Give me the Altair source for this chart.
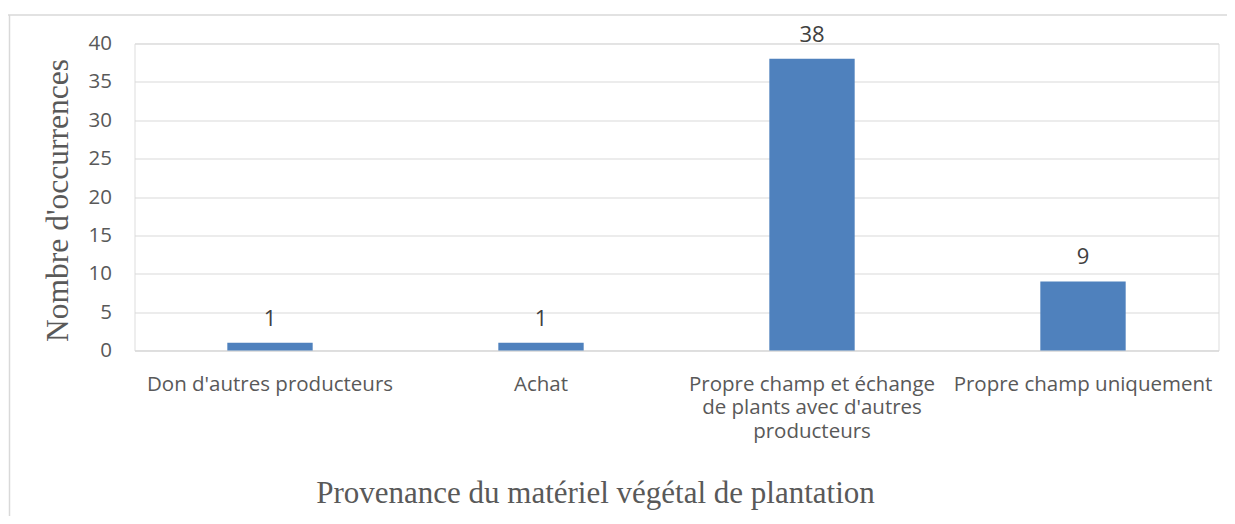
import altair as alt
import pandas as pd

categories = [
    "Don d'autres producteurs",
    "Achat",
    "Propre champ et échange|de plants avec d'autres|producteurs",
    "Propre champ uniquement",
]
values = [1, 1, 38, 9]
y_ticks = [0, 5, 10, 15, 20, 25, 30, 35, 40]

df = pd.DataFrame({"cat": categories, "val": values})
one = pd.DataFrame({"k": [0]})

LABEL_FONT = "Open Sans"
TITLE_FONT = "Liberation Serif"
GREY = "#595959"
GRID = "#D9D9D9"

x_enc = alt.X(
    "cat:N",
    sort=None,
    scale=alt.Scale(paddingInner=0.685, paddingOuter=0.3425),
    axis=alt.Axis(
        title="Provenance du matériel végétal de plantation",
        labelExpr="split(datum.label, '|')",
        labelAngle=0,
        labelFont=LABEL_FONT,
        labelFontSize=20.5,
        labelColor=GREY,
        labelPadding=23.5,
        labelLineHeight=23.5,
        labelLimit=400,
        labelOverlap=False,
        labelBound=False,
        ticks=False,
        domainColor=GRID,
        domainWidth=1,
        titleFont=TITLE_FONT,
        titleFontSize=31,
        titleFontWeight="normal",
        titleColor=GREY,
        titleX=460.5,
        titleY=151.7,
        titleAlign="center",
        titleBaseline="alphabetic",
    ),
)

y_enc = alt.Y(
    "val:Q",
    scale=alt.Scale(domain=[0, 40], nice=False),
    axis=alt.Axis(
        title="Nombre d'occurrences",
        values=y_ticks,
        labelOverlap=False,
        labelFont=LABEL_FONT,
        labelFontSize=20.5,
        labelColor=GREY,
        labelPadding=23,
        ticks=False,
        domain=False,
        gridColor=GRID,
        gridWidth=1,
        titleFont=TITLE_FONT,
        titleFontSize=31.5,
        titleFontWeight="normal",
        titleColor=GREY,
        titleAngle=270,
        titleX=-67.5,
        titleY=156.5,
        titleAlign="center",
        titleBaseline="alphabetic",
    ),
)

bars = alt.Chart(df).mark_bar(color="#4F81BD").encode(x=x_enc, y=y_enc)

labels = alt.Chart(df).mark_text(
    baseline="alphabetic", dy=-17, fontSize=22, font=LABEL_FONT, color="#404040"
).encode(x=x_enc, y=y_enc, text="val:Q")

border_top = alt.Chart(one).mark_rule(color=GRID, strokeWidth=1.5).encode(
    x=alt.value(-130), x2=alt.value(1110), y=alt.value(-28.5)
)
border_left = alt.Chart(one).mark_rule(color=GRID, strokeWidth=1.5).encode(
    x=alt.value(-125), y=alt.value(-28.5), y2=alt.value(520)
)

chart = (
    alt.layer(bars, labels, border_top, border_left)
    .properties(
        width=1084,
        height=307,
        autosize=alt.AutoSizeParams(type="none"),
        padding={"left": 126.5, "top": 35.5, "right": 8, "bottom": 165},
    )
    .configure_view(strokeWidth=0, stroke="transparent")
    .configure(background="white")
)

chart.save("out.html", embed_options={"renderer": "svg", "actions": False})
